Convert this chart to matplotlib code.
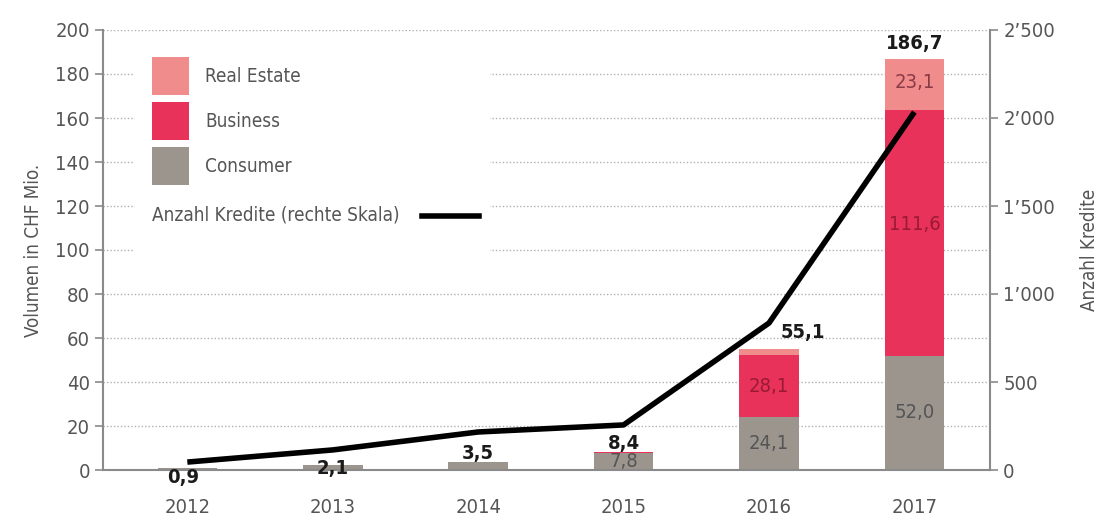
import matplotlib
matplotlib.use("Agg")
import matplotlib.pyplot as plt
from matplotlib.patches import Rectangle
from matplotlib.lines import Line2D
from matplotlib.ticker import FuncFormatter
import numpy as np

plt.rcParams['font.family'] = ['DejaVu Sans']
plt.rcParams['font.stretch'] = 'condensed'

years = ["2012", "2013", "2014", "2015", "2016", "2017"]
consumer = [0.9, 2.1, 3.5, 7.8, 24.1, 52.0]
business = [0.0, 0.0, 0.0, 0.6, 28.1, 111.6]
real_estate = [0.0, 0.0, 0.0, 0.0, 2.9, 23.1]
totals = [0.9, 2.1, 3.5, 8.4, 55.1, 186.7]
anzahl = [45, 114, 216, 256, 835, 2034]
left_ticks = [0, 20, 40, 60, 80, 100, 120, 140, 160, 180, 200]
right_ticks = [0, 500, 1000, 1500, 2000, 2500]

c_cons = "#9b958e"
c_bus = "#e8325a"
c_re = "#f08c8c"
grid_c = "#b0b0b0"
spine_c = "#8a8a8a"
txt_c = "#555555"
fs_tick = 14.5
fs_lab = 13.6
fs_axis = 13.5

fig = plt.figure(figsize=(11.01, 5.17), dpi=100)
ax = fig.add_axes([103/1101, 1-470/517, (990-103)/1101, 440/517])
x = np.arange(len(years))
w = 0.41

ax.set_ylim(0, 200)
ax.set_xlim(-0.58, 5.52)
ax.set_yticks(left_ticks)
ax.yaxis.grid(True, linestyle=(0, (1, 1.5)), color=grid_c, linewidth=1)
ax.set_axisbelow(True)

cons = np.array(consumer)
bus = np.array(business)
re_ = np.array(real_estate)
ax.bar(x, cons, w, color=c_cons, zorder=2)
ax.bar(x, bus, w, bottom=cons, color=c_bus, zorder=2)
ax.bar(x, re_, w, bottom=cons + bus, color=c_re, zorder=2)

for s in ["top", "right"]:
    ax.spines[s].set_visible(False)
for s in ["left", "bottom"]:
    ax.spines[s].set_color(spine_c)
    ax.spines[s].set_linewidth(1.5)
ax.tick_params(axis="y", colors=spine_c, labelcolor=txt_c, labelsize=fs_tick, length=6, width=1.2)
ax.tick_params(axis="x", length=0, labelcolor=txt_c, labelsize=fs_tick, pad=20)
ax.set_xticks(x)
ax.set_xticklabels(years)
ax.set_ylabel("Volumen in CHF Mio.", color=txt_c, fontsize=fs_axis)
ax.yaxis.set_label_coords(-0.068, 0.5)

ax2 = ax.twinx()
ax2.set_ylim(0, 2500)
ax2.set_yticks(right_ticks)
ax2.yaxis.set_major_formatter(FuncFormatter(lambda v, p: f"{int(v):,}".replace(",", "\u2019")))
for s in ["top", "left", "bottom"]:
    ax2.spines[s].set_visible(False)
ax2.spines["right"].set_color(spine_c)
ax2.spines["right"].set_linewidth(1.5)
ax2.tick_params(axis="y", colors=spine_c, labelcolor=txt_c, labelsize=fs_tick, length=6, width=1.2)
ax2.set_ylabel("Anzahl Kredite", color=txt_c, fontsize=fs_axis)
ax2.yaxis.set_label_coords(1.102, 0.5)
ax2.plot(x, anzahl, color="black", linewidth=4, zorder=5, solid_capstyle="butt")

# segment labels
seg_lab = [(3, consumer[3] / 2, "7,8", txt_c),
           (4, consumer[4] / 2, "24,1", txt_c),
           (4, consumer[4] + business[4] / 2, "28,1", "#9a1a35"),
           (5, consumer[5] / 2, "52,0", txt_c),
           (5, consumer[5] + business[5] / 2 + 4, "111,6", "#9a1a35"),
           (5, consumer[5] + business[5] + real_estate[5] / 2 + 1, "23,1", "#8a3a45")]
for xi, yi, t, c in seg_lab:
    ax.text(xi, yi, t, ha="center", va="center", fontsize=fs_tick, color=c, zorder=6)

# total labels
tot_off = [(-0.03, -4.3), (0, -1.6), (0, 4.2), (0, 3.6), (0.23, 7.2), (0, 7.3)]
for i, (dx, dy) in enumerate(tot_off):
    ax.text(x[i] + dx, totals[i] + dy, f"{totals[i]:.1f}".replace(".", ","),
            ha="center", va="center", fontsize=fs_tick, fontweight="bold", color="#1a1a1a", zorder=7)

# legend
ax.add_patch(Rectangle((0.036, 0.48), 0.40, 0.445, transform=ax.transAxes,
                       facecolor="white", edgecolor="none", zorder=1))
leg_items = [(c_re, "Real Estate", 0.895), (c_bus, "Business", 0.793), (c_cons, "Consumer", 0.69)]
for col, lab, yc in leg_items:
    ax.add_patch(Rectangle((0.0557, yc - 0.043), 0.0417, 0.086, transform=ax.transAxes,
                           facecolor=col, edgecolor="none", zorder=3))
    ax.text(0.115, yc, lab, transform=ax.transAxes, ha="left", va="center",
            fontsize=fs_lab, color=txt_c, zorder=3)
ax.text(0.0557, 0.58, "Anzahl Kredite (rechte Skala)", transform=ax.transAxes,
        ha="left", va="center", fontsize=fs_lab, color=txt_c, zorder=3)
ax.add_line(Line2D([0.36, 0.424], [0.578, 0.578], transform=ax.transAxes,
                   color="black", linewidth=4, zorder=3))

fig.savefig("out.png", dpi=100)
